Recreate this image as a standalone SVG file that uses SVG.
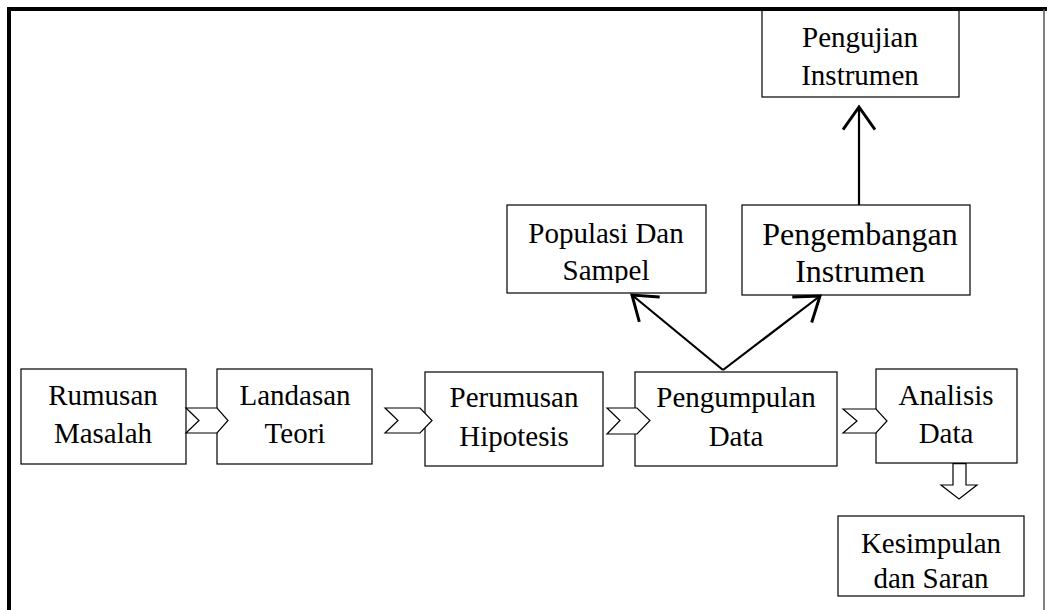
<svg xmlns="http://www.w3.org/2000/svg" width="1047" height="610" viewBox="0 0 1047 610">
<style>
.box{fill:#fff;stroke:#000;stroke-width:1.2}
.t{font-family:"Liberation Serif","Times New Roman",serif;font-size:29px;fill:#000;text-anchor:middle}
.big{font-size:32px}
.chev{fill:#fff;stroke:#000;stroke-width:1.2;stroke-linejoin:miter}
.conn{fill:none;stroke:#000;stroke-width:2.2}
</style>
<defs>
<marker id="open" markerUnits="userSpaceOnUse" markerWidth="40" markerHeight="40" refX="0" refY="0" viewBox="-20 -15 24 30" orient="auto" overflow="visible">
<path d="M-17,-12 L0,0 L-17,12" fill="none" stroke="#000" stroke-width="2.2"/>
</marker>
<clipPath id="clipSampel"><rect x="500" y="200" width="210" height="83"/></clipPath>
</defs>
<rect width="1047" height="610" fill="#fff"/>
<g id="pengujian">
<rect class="box" x="762" y="9" width="197" height="88"/>
<text class="t" x="860" y="47">Pengujian</text>
<text class="t" x="860" y="85">Instrumen</text>
</g>
<g id="populasi">
<rect class="box" x="507" y="205" width="199" height="88"/>
<text class="t" x="606" y="243">Populasi Dan</text>
<text class="t" x="606" y="280" clip-path="url(#clipSampel)">Sampel</text>
</g>
<g id="pengembangan">
<rect class="box" x="742" y="205" width="228" height="90"/>
<text class="t big" x="860" y="245">Pengembangan</text>
<text class="t big" x="860" y="282">Instrumen</text>
</g>
<g id="rumusan">
<rect class="box" x="21" y="369" width="165" height="95"/>
<text class="t" x="103" y="405">Rumusan</text>
<text class="t" x="103" y="443">Masalah</text>
</g>
<g id="landasan">
<rect class="box" x="217" y="369" width="155" height="95"/>
<text class="t" x="295" y="405">Landasan</text>
<text class="t" x="295" y="443">Teori</text>
</g>
<g id="perumusan">
<rect class="box" x="425" y="372" width="178" height="94"/>
<text class="t" x="514" y="407">Perumusan</text>
<text class="t" x="514" y="446">Hipotesis</text>
</g>
<g id="pengumpulan">
<rect class="box" x="635" y="372" width="202" height="94"/>
<text class="t" x="736" y="407">Pengumpulan</text>
<text class="t" x="736" y="446">Data</text>
</g>
<g id="analisis">
<rect class="box" x="876" y="369" width="141" height="94"/>
<text class="t" x="946" y="405">Analisis</text>
<text class="t" x="946" y="443">Data</text>
</g>
<g id="kesimpulan">
<rect class="box" x="838" y="516" width="186" height="80"/>
<text class="t" x="931" y="553">Kesimpulan</text>
<text class="t" x="931" y="588">dan Saran</text>
</g>
<g id="connectors">
<path class="chev" d="M186,408 L217,408 L228,420.5 L217,433 L186,433 L199,420.5 Z"/>
<path class="chev" d="M385,408 L420,408 L432,420.5 L420,433 L385,433 L398,420.5 Z"/>
<path class="chev" d="M607,408 L637,408 L650,420.5 L637,434 L607,434 L620,420.5 Z"/>
<path class="chev" d="M843,409 L876,409 L887,421 L876,433 L843,433 L857,421 Z"/>
<path class="chev" d="M953,463.6 L966,463.6 L966,485 L977,485 L959,499 L941,485 L953,485 Z"/>
<line class="conn" x1="723" y1="370" x2="632" y2="295" marker-end="url(#open)"/>
<line class="conn" x1="723" y1="370" x2="820" y2="296" marker-end="url(#open)"/>
<line class="conn" x1="859" y1="205" x2="859" y2="107" marker-end="url(#open)"/>
</g>
<g id="frame">
<line x1="7" y1="9" x2="1047" y2="9" stroke="#000" stroke-width="4"/>
<line x1="9" y1="7" x2="9" y2="610" stroke="#000" stroke-width="4"/>
<line x1="1044" y1="9" x2="1044" y2="610" stroke="#555" stroke-width="1.5"/>
</g>
</svg>
